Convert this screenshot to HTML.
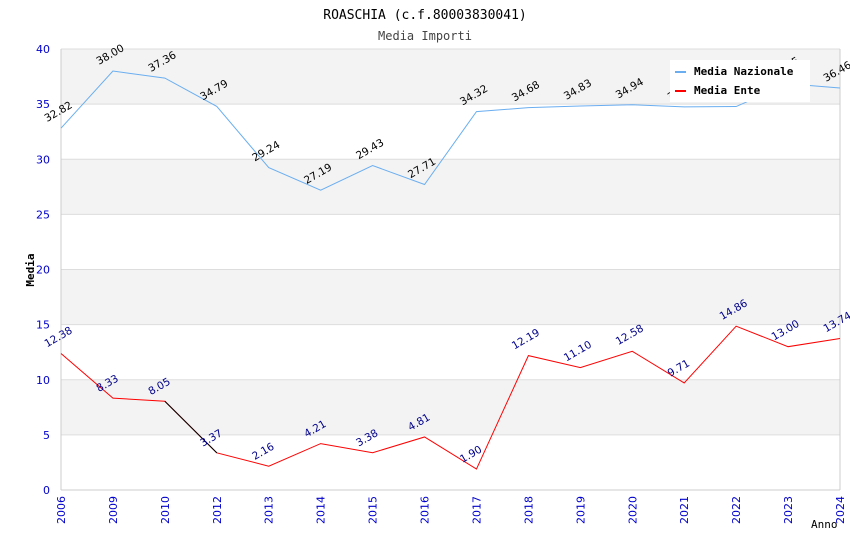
<!DOCTYPE html>
<html><head><meta charset="utf-8"><style>
body{margin:0;background:#fff;}
svg text{font-family:"DejaVu Sans","Liberation Sans",sans-serif;}
svg text.mono{font-family:"DejaVu Sans Mono","Liberation Mono",monospace;}
</style></head><body>
<svg id="chart" width="850" height="550" xmlns="http://www.w3.org/2000/svg">
<text class="mono" x="425" y="19" text-anchor="middle" font-size="13">ROASCHIA (c.f.80003830041)</text>
<text class="mono" x="425" y="40" text-anchor="middle" font-size="12" fill="#444">Media Importi</text>
<g id="bands"></g><g id="axes"></g><g id="lines"></g><g id="labels"></g>
<text class="mono" x="34" y="270" text-anchor="middle" font-size="11" font-weight="bold" transform="rotate(-90 34 270)">Media</text>
<text class="mono" x="811" y="528" font-size="11">Anno</text>
<g>
<rect x="670" y="60" width="140" height="42" fill="#fff"/>
<line x1="675" y1="72" x2="686" y2="72" stroke="#6aaef0" stroke-width="2"/>
<text class="mono" x="694" y="75" font-size="11" font-weight="bold">Media Nazionale</text>
<line x1="675" y1="91" x2="686" y2="91" stroke="#f00" stroke-width="2"/>
<text class="mono" x="694" y="94" font-size="11" font-weight="bold">Media Ente</text>
</g>
</svg>
<script>
const categories=["2006","2009","2010","2012","2013","2014","2015","2016","2017","2018","2019","2020","2021","2022","2023","2024"];
const nazionale=[32.82,38.00,37.36,34.79,29.24,27.19,29.43,27.71,34.32,34.68,34.83,34.94,34.75,34.78,36.85,36.46];
const ente=[12.38,8.33,8.05,3.37,2.16,4.21,3.38,4.81,1.90,12.19,11.10,12.58,9.71,14.86,13.00,13.74];
const yTicks=[0,5,10,15,20,25,30,35,40];
const NS="http://www.w3.org/2000/svg";
const X0=61,X1=840,Y0=490,Y1=49,YMAX=40;
const xs=i=>X0+i*(X1-X0)/(categories.length-1);
const ys=v=>Y0-v*(Y0-Y1)/YMAX;
function mk(t,a,p){const e=document.createElementNS(NS,t);for(const k in a)e.setAttribute(k,a[k]);p.appendChild(e);return e;}
const bands=document.getElementById('bands'),axes=document.getElementById('axes'),lines=document.getElementById('lines'),labels=document.getElementById('labels');
for(let i=0;i<yTicks.length-1;i++){
  const r=mk('rect',{x:X0,y:ys(yTicks[i+1]),width:X1-X0,height:ys(yTicks[i])-ys(yTicks[i+1]),fill:(i%2==1)?'#f3f3f3':'#fff'},bands);
  
  
}
yTicks.forEach(v=>{
  const l=mk('line',{x1:X0,x2:X1,y1:ys(v),y2:ys(v),stroke:'#ddd'},axes);
  
  
  const t=mk('text',{x:50,y:ys(v)+4,'text-anchor':'end','font-size':11,fill:'#00c'},axes);
  t.textContent=v;
  
  
});
mk('line',{x1:X0,x2:X0,y1:Y1,y2:Y0,stroke:'#ccc'},axes);
mk('line',{x1:X1,x2:X1,y1:Y1,y2:Y0,stroke:'#ccc'},axes);
mk('line',{x1:X0,x2:X1,y1:Y0,y2:Y0,stroke:'#ccc'},axes);
categories.forEach((c,i)=>{
  const x=xs(i);
  const t=mk('text',{x:x+4,y:496,'text-anchor':'end','font-size':11,fill:'#00c',transform:`rotate(-90 ${x+4} 496)`},axes);
  t.textContent=c;
  
  
});
function series(vals,color,lblColor,name){
  const pl=mk('polyline',{points:vals.map((v,i)=>xs(i)+','+ys(v)).join(' '),fill:'none',stroke:color,'stroke-width':1},lines);
  
  
  vals.forEach((v,i)=>{
    const x=xs(i)-14,y=ys(v)-6;
    const t=mk('text',{x:x,y:y,'font-size':10.5,fill:lblColor,transform:`rotate(-30 ${x} ${y})`},labels);
    t.textContent=v.toFixed(2);
    
    
  });
}
series(nazionale,'#6aaef0','#000','nazionale');
series(ente,'#f00','#00008b','ente');
const seg=mk('line',{x1:xs(2),y1:ys(ente[2]),x2:xs(3),y2:ys(ente[3]),stroke:'#000'},lines);


</script>
</body></html>
